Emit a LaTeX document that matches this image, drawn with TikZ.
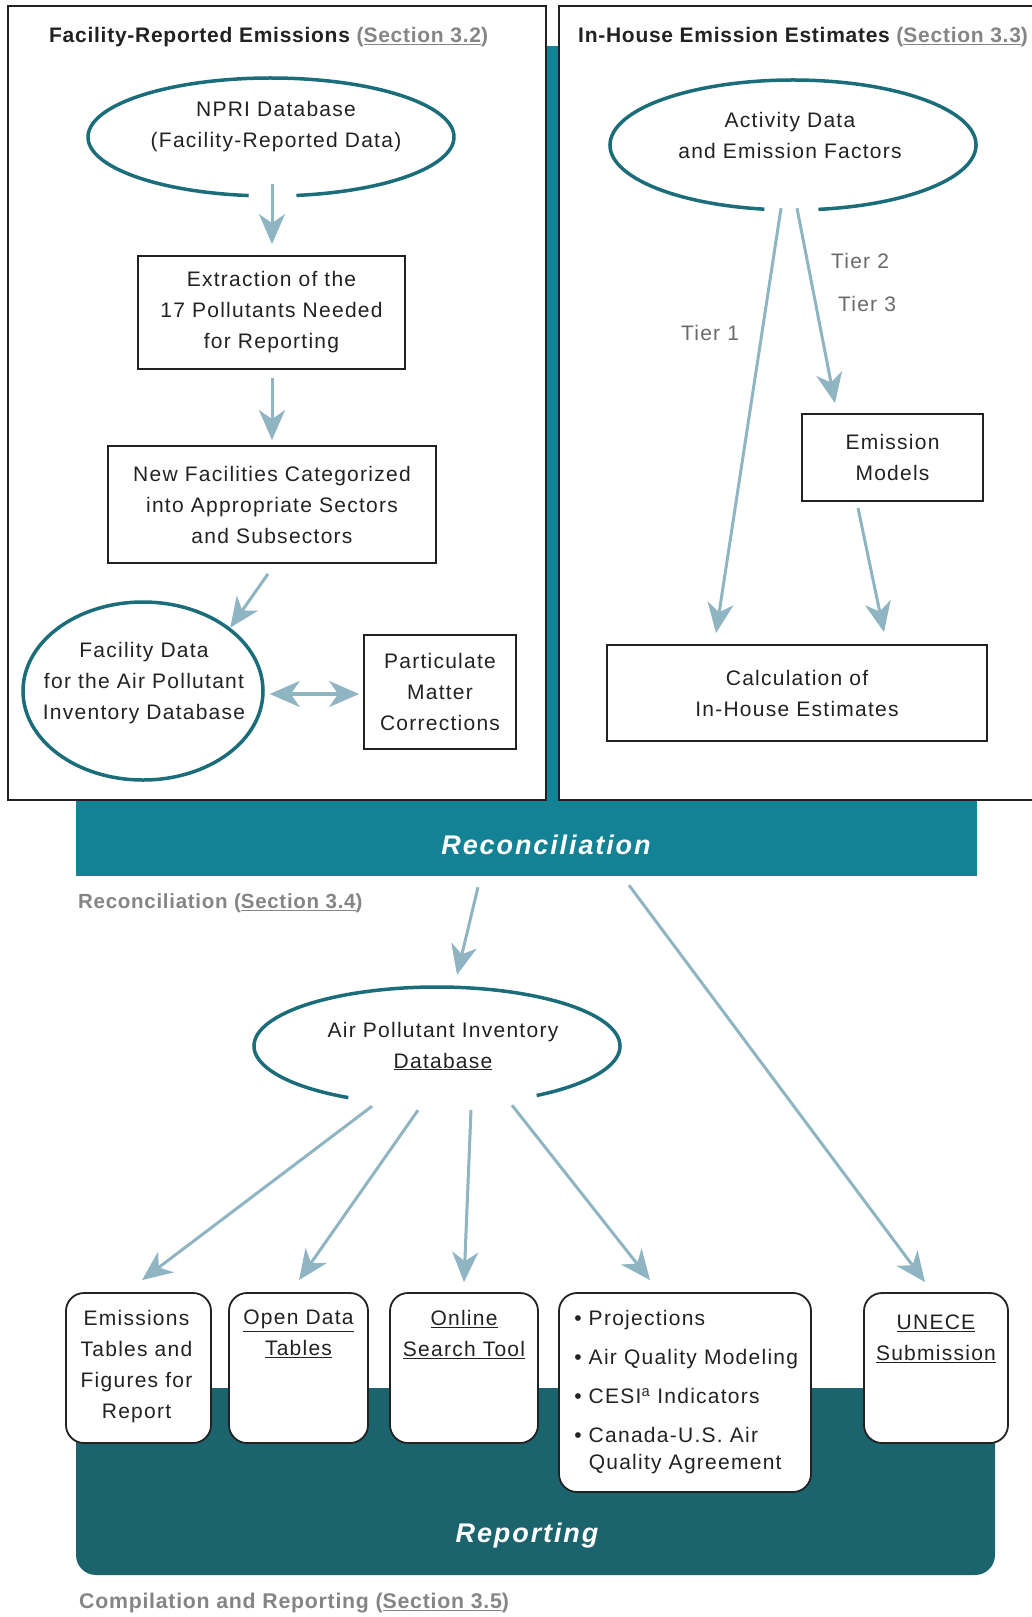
\documentclass[tikz,border=0pt]{standalone}
\usepackage{fontspec}
\setmainfont{Liberation Sans}
\newfontfamily\boxfont[LetterSpace=6]{Liberation Sans}
\newfontfamily\headfont[LetterSpace=3.5]{Liberation Sans}
\newfontfamily\bandfont[LetterSpace=7]{Liberation Sans}
\usetikzlibrary{arrows.meta,shapes.geometric}

\definecolor{ringteal}{HTML}{1A6D79}
\definecolor{reconteal}{HTML}{128294}
\definecolor{reportteal}{HTML}{1B646E}
\definecolor{flowblue}{HTML}{8FB4C2}
\definecolor{linkgray}{HTML}{858585}
\definecolor{tiergray}{HTML}{6A6A6A}
\definecolor{inkdark}{HTML}{222222}

\newcommand{\boxtype}{\boxfont\fontsize{21}{31}\selectfont}
\newcommand{\listtype}{\boxfont\fontsize{21}{27}\selectfont}
\newcommand{\headtype}{\headfont\bfseries\fontsize{21}{25}\selectfont}
\newcommand{\notetype}{\headfont\bfseries\fontsize{21.3}{25}\selectfont}
\newcommand{\bandtype}{\bandfont\bfseries\itshape\fontsize{27}{32}\selectfont}
\newcommand{\seclink}[1]{(\underline{Section #1})}

\begin{document}
\begin{tikzpicture}[x=1pt,y=-1pt,
  panel/.style={draw=inkdark,line width=2pt,fill=white,inner sep=0pt},
  stepbox/.style={draw=inkdark,line width=1.8pt,fill=white,inner sep=0pt,align=center,font=\boxtype,text=inkdark},
  ring/.style={ellipse,inner sep=0pt},
  ringline/.style={draw=ringteal,line width=3.5pt},
  ringtext/.style={align=center,font=\boxtype,text=inkdark,inner sep=0pt},
  flow/.style={draw=flowblue,line width=3pt,-{Stealth[length=30pt,width=26pt,inset=9pt]}},
  twoway/.style={draw=flowblue,line width=3.5pt,{Stealth[length=30pt,width=26pt,inset=9pt]}-{Stealth[length=30pt,width=26pt,inset=9pt]}},
  outbox/.style={draw=inkdark,line width=1.8pt,fill=white,rounded corners=18pt,inner sep=0pt},
  outtext/.style={align=center,font=\boxtype,text=inkdark,anchor=north,inner sep=0pt},
  band/.style={inner sep=0pt},
  bandtitle/.style={font=\bandtype,text=white,inner sep=0pt},
  heading/.style={font=\headtype,text=inkdark,anchor=west,inner sep=0pt},
  note/.style={font=\notetype,text=linkgray,anchor=west,inner sep=0pt},
  tier/.style={font=\boxtype,text=tiergray,inner sep=0pt}]
\useasboundingbox (0,0) rectangle (1031,1617);

\node[band,fill=reconteal,minimum width=901pt,minimum height=830pt] (recon) at (526.5,461) {};
\node[band,fill=reportteal,rounded corners=20pt,minimum width=919pt,minimum height=187pt] (report) at (535.5,1481.5) {};

\node[panel,minimum width=538pt,minimum height=794pt] (left panel) at (277,403) {};
\node[panel,minimum width=486pt,minimum height=794pt] (right panel) at (802,403) {};
\node[heading] (left head) at (49,37) {Facility-Reported Emissions {\color{linkgray}\seclink{3.2}}};
\node[heading] (right head) at (578,37) {In-House Emission Estimates {\color{linkgray}\seclink{3.3}}};

\node[ring,minimum width=366pt,minimum height=118pt] (npri) at (271,137) {};
\draw[ringline] ([shift={(97:183 and 59)}]npri.center) arc[start angle=97,end angle=442,x radius=183,y radius=59];
\node[ringtext] (npri text) at ([shift={(5,-10)}]npri.center) {NPRI Database\\(Facility-Reported Data)};
\node[stepbox,minimum width=267pt,minimum height=113pt] (extraction) at (271.5,312.5) {Extraction of the\\17 Pollutants Needed\\for Reporting};
\node[stepbox,minimum width=328pt,minimum height=117pt] (new facilities) at (272,504.5) {New Facilities Categorized\\into Appropriate Sectors\\and Subsectors};
\node[ring,ringline,minimum width=240pt,minimum height=178pt] (facility) at (143,691) {};
\node[ringtext] (facility text) at ([shift={(1,-8)}]facility.center) {Facility Data\\for the Air Pollutant\\Inventory Database};
\node[stepbox,minimum width=152pt,minimum height=114pt] (pm) at (440,692) {Particulate\\Matter\\Corrections};

\node[ring,minimum width=366pt,minimum height=130pt] (activity) at (793,145) {};
\draw[ringline] ([shift={(99:183 and 65)}]activity.center) arc[start angle=99,end angle=442,x radius=183,y radius=65];
\node[ringtext] (activity text) at ([shift={(-3,-10)}]activity.center) {Activity Data\\and Emission Factors};
\node[stepbox,minimum width=181pt,minimum height=87pt] (models) at (892.5,457.5) {Emission\\Models};
\node[stepbox,minimum width=380pt,minimum height=96pt] (calc) at (797,693) {Calculation of\\In-House Estimates};
\node[tier] (tier one) at (710,333) {Tier 1};
\node[tier] (tier two) at (860,261) {Tier 2};
\node[tier] (tier three) at (867,304) {Tier 3};

\node[bandtitle] (recon title) at (546,845) {Reconciliation};
\node[note,font=\headfont\bfseries\fontsize{20.5}{25}\selectfont] (recon note) at (78,903) {Reconciliation \seclink{3.4}};

\node[ring,minimum width=366pt,minimum height=118pt] (apid) at (437,1046) {};
\draw[ringline] ([shift={(119:183 and 59)}]apid.center) arc[start angle=119,end angle=417,x radius=183,y radius=59];
\node[ringtext] (apid text) at ([shift={(6,0)}]apid.center) {Air Pollutant Inventory\\\underline{Database}};

\node[outbox,minimum width=145pt,minimum height=150pt] (emissions) at (138.5,1368) {};
\node[outbox,minimum width=139pt,minimum height=150pt] (open data) at (298.5,1368) {};
\node[outbox,minimum width=148pt,minimum height=150pt] (online) at (464,1368) {};
\node[outbox,minimum width=252pt,minimum height=199pt] (uses) at (685,1392.5) {};
\node[outbox,minimum width=144pt,minimum height=150pt] (unece) at (936,1368) {};
\node[outtext] (emissions text) at ([shift={(-2,18)}]emissions.north) {Emissions\\Tables and\\Figures for\\Report};
\node[outtext] (open data text) at ([shift={(0,18)}]open data.north) {\underline{Open Data}\\\underline{Tables}};
\node[outtext] (online text) at ([shift={(0,18)}]online.north) {\underline{Online}\\\underline{Search Tool}};
\node[outtext,font=\listtype,align=left,anchor=north west] (uses text) at ([shift={(16,18)}]uses.north west) {\textbullet\ Projections\\[12pt]\textbullet\ Air Quality Modeling\\[12pt]\textbullet\ CESI\textsuperscript{a} Indicators\\[12pt]\textbullet\ Canada-U.S. Air\\\hphantom{\textbullet\ }Quality Agreement};
\node[outtext] (unece text) at ([shift={(0,23)}]unece.north) {\underline{UNECE}\\\underline{Submission}};

\node[bandtitle] (report title) at (527,1535) {Reporting};
\node[note] (report note) at (79,1603) {Compilation and Reporting \seclink{3.5}};

\draw[flow] ([shift={(1,-12)}]npri.south) -- ([shift={(0.5,-11)}]extraction.north);
\draw[flow] ([shift={(0.5,8)}]extraction.south) -- ([shift={(0,-5)}]new facilities.north);
\draw[flow] ([shift={(-4,10)}]new facilities.south) -- (facility.36);
\draw[twoway] ([shift={(5,3)}]facility.east) -- ([shift={(-4,2)}]pm.west);

\draw[flow] ([shift={(-12,-2)}]activity.south) -- ([shift={(-81,-11)}]calc.north);
\draw[flow] ([shift={(4,-2)}]activity.south) -- ([shift={(-57.5,-10)}]models.north);
\draw[flow] ([shift={(-34.5,6)}]models.south) -- ([shift={(87,-12)}]calc.north);

\draw[flow] ([shift={(-48.5,11)}]recon.south) -- ([shift={(20,-12)}]apid.north);
\draw[flow] ([shift={(102.5,9)}]recon.south) -- ([shift={(-11,-10)}]unece.north);

\draw[flow] ([shift={(-65,1)}]apid.south) -- ([shift={(3.5,-12)}]emissions.north);
\draw[flow] ([shift={(-19,5)}]apid.south) -- ([shift={(0.5,-12)}]open data.north);
\draw[flow] ([shift={(34,5)}]apid.south) -- ([shift={(0,-10)}]online.north);
\draw[flow] ([shift={(75,0)}]apid.south) -- ([shift={(-35,-12)}]uses.north);
\end{tikzpicture}
\end{document}
